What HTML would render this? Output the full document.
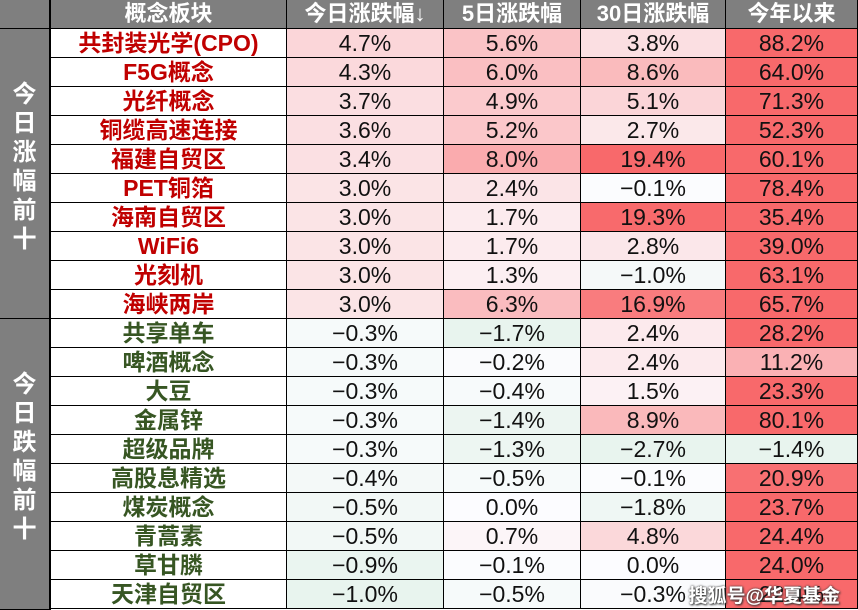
<!DOCTYPE html>
<html><head><meta charset="utf-8"><style>
body{margin:0;width:858px;height:610px;overflow:hidden;background:#fff;font-family:"Liberation Sans","Noto Sans CJK SC",sans-serif;position:relative}
.c{position:absolute;box-sizing:border-box;border-right:1px solid #000;border-bottom:1px solid #000;display:flex;align-items:center;justify-content:center;font-size:23px;color:#111;line-height:1}
.h{background:#7f7f7f;color:#fff;font-weight:bold;font-size:22px}
.side{position:absolute;left:0;width:51px;background:#7f7f7f;color:#fff;font-weight:bold;font-size:24px;box-sizing:border-box;border-right:2px solid #000;border-bottom:1px solid #000;display:flex;flex-direction:column;align-items:center;justify-content:center;line-height:29px;padding-bottom:14px}
.wm{position:absolute;right:18px;bottom:2px;color:#fff;font-size:19px;font-weight:bold;text-shadow:0 0 2px #333,1px 1px 2px #333}
</style></head><body>
<div id="t"></div>
<div class="side" style="top:0;height:29px;border-bottom:1px solid #000"></div>
<div class="side" style="top:29px;height:290px">今<br>日<br>涨<br>幅<br>前<br>十</div>
<div class="side" style="top:319px;height:291px">今<br>日<br>跌<br>幅<br>前<br>十</div>
<div class="wm">搜狐号@华夏基金</div>
<script>
var rows=[["共封装光学(CPO)",4.7,5.6,3.8,88.2],["F5G概念",4.3,6.0,8.6,64.0],["光纤概念",3.7,4.9,5.1,71.3],["铜缆高速连接",3.6,5.2,2.7,52.3],["福建自贸区",3.4,8.0,19.4,60.1],["PET铜箔",3.0,2.4,-0.1,78.4],["海南自贸区",3.0,1.7,19.3,35.4],["WiFi6",3.0,1.7,2.8,39.0],["光刻机",3.0,1.3,-1.0,63.1],["海峡两岸",3.0,6.3,16.9,65.7],
["共享单车",-0.3,-1.7,2.4,28.2],["啤酒概念",-0.3,-0.2,2.4,11.2],["大豆",-0.3,-0.4,1.5,23.3],["金属锌",-0.3,-1.4,8.9,80.1],["超级品牌",-0.3,-1.3,-2.7,-1.4],["高股息精选",-0.4,-0.5,-0.1,20.9],["煤炭概念",-0.5,0.0,-1.8,23.7],["青蒿素",-0.5,0.7,4.8,24.4],["草甘膦",-0.9,-0.1,0.0,24.0],["天津自贸区",-1.0,-0.5,-0.3,22.4]];
var X=[51,287,444,581,726,858];
var hd=["概念板块","今日涨跌幅↓","5日涨跌幅","30日涨跌幅","今年以来"];
function mix(a,b,t){t=Math.max(0,Math.min(1,t));return "rgb("+a.map((v,i)=>Math.round(v+(b[i]-v)*t)).join(",")+")";}
var W=[252,252,255],R=[248,105,107],G=[99,190,123];
function col(j,v){
 if(v<0){var m=[0,1.0,1.7,2.7,1.4][j];return mix(W,G,Math.abs(v)/m*0.13);}
 var t=[0,v/4.7*0.26,v/8*0.55,v/19.4,v/22][j];return mix(W,R,t);}
var h="";
for(var j=0;j<5;j++)h+='<div class="c h" style="left:'+X[j]+'px;top:0;width:'+(X[j+1]-X[j])+'px;height:29px">'+hd[j]+'</div>';
rows.forEach(function(r,i){var y=29+i*29;
 for(var j=0;j<5;j++){var s='left:'+X[j]+'px;top:'+y+'px;width:'+(X[j+1]-X[j])+'px;height:29px;';
  if(j==0){s+='font-weight:bold;font-size:23px;color:'+(i<10?'#c00000':'#375623')+';';h+='<div class="c" style="'+s+'">'+r[0]+'</div>';}
  else{var v=r[j];s+='background:'+col(j,v)+';';h+='<div class="c" style="'+s+'">'+(v<0?'−'+Math.abs(v).toFixed(1):v.toFixed(1))+'%</div>';}
 }});
document.getElementById('t').innerHTML=h;
</script>
</body></html>
